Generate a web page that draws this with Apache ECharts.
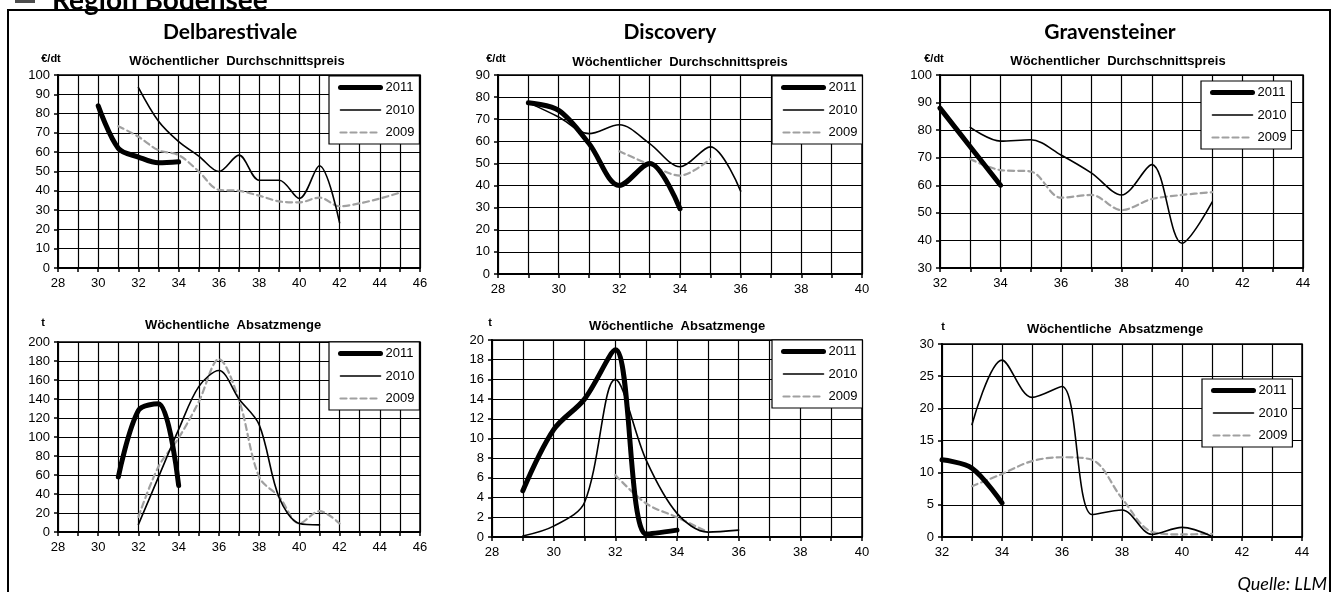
<!DOCTYPE html>
<html>
<head>
<meta charset="utf-8">
<script src="https://cdn.jsdelivr.net/npm/echarts@6/dist/echarts.min.js"></script>
<style>
html,body{margin:0;padding:0;background:#fff;}
#c{width:1335px;height:592px;}
</style>
</head>
<body>
<div id="c"></div>
<script>
// ---------- DATA ----------
const sortTitles = ['Delbarestivale', 'Discovery', 'Gravensteiner'];
const preisTitle = 'Wöchentlicher  Durchschnittspreis';
const mengeTitle = 'Wöchentliche  Absatzmenge';
const years = ['2011', '2010', '2009'];

// Delbarestivale – Preis (€/dt)
const delPreisWochen2011 = [30, 31, 32, 33, 34];
const delPreis2011 = [84, 62, 57.5, 54.5, 55];
const delPreisWochen2010 = [32, 33, 34, 35, 36, 37, 38, 39, 40, 41, 42];
const delPreis2010 = [93.5, 76, 65.5, 58, 50, 58.5, 45.5, 45.5, 36, 53, 23.5];
const delPreisWochen2009 = [31, 32, 33, 34, 35, 36, 37, 38, 39, 40, 41, 42, 43, 44, 45];
const delPreis2009 = [73.5, 68, 61, 58.5, 50, 40.5, 40, 37.5, 34.5, 34, 36.5, 32, 33.5, 36, 39];

// Discovery – Preis (€/dt)
const disPreisWochen2011 = [29, 30, 31, 32, 33, 34];
const disPreis2011 = [77.5, 74, 59, 40, 50, 29.5];
const disPreisWochen2010 = [29, 30, 31, 32, 33, 34, 35, 36];
const disPreis2010 = [77.5, 71, 63.5, 67.5, 59, 48.5, 57.5, 37.5];
const disPreisWochen2009 = [32, 33, 34, 35];
const disPreis2009 = [55.5, 49.5, 44.5, 52];

// Gravensteiner – Preis (€/dt)
const graPreisWochen2011 = [32, 33, 34];
const graPreis2011 = [88, 74, 60];
const graPreisWochen2010 = [33, 34, 35, 36, 37, 38, 39, 40, 41];
const graPreis2010 = [81, 76, 76.5, 71, 64.5, 56.5, 67.5, 39, 54];
const graPreisWochen2009 = [33, 34, 35, 36, 37, 38, 39, 40, 41];
const graPreis2009 = [69.5, 65.5, 65, 55.5, 56.5, 51, 55, 56.5, 57.5];

// Delbarestivale – Absatzmenge (t)
const delMengeWochen2011 = [31, 32, 33, 34];
const delMenge2011 = [58, 128, 135, 49];
const delMengeWochen2010 = [32, 33, 34, 35, 36, 37, 38, 39, 40, 41];
const delMenge2010 = [8, 58, 108, 153, 170, 140, 113, 36, 9, 7.5];
const delMengeWochen2009 = [32, 33, 34, 35, 36, 37, 38, 39, 40, 41, 42];
const delMenge2009 = [16, 69, 99, 137, 182, 139, 58, 37, 9, 22, 9];

// Discovery – Absatzmenge (t)
const disMengeWochen2011 = [29, 30, 31, 32, 33, 34];
const disMenge2011 = [4.7, 10.9, 14, 19, 0.3, 0.7];
const disMengeWochen2010 = [29, 30, 31, 32, 33, 34, 35, 36];
const disMenge2010 = [0.1, 1.1, 3.5, 16, 7.8, 2.4, 0.5, 0.7];
const disMengeWochen2009 = [32, 33, 34, 35];
const disMenge2009 = [6.3, 3.4, 2.0, 0.5];

// Gravensteiner – Absatzmenge (t)
const graMengeWochen2011 = [32, 33, 34];
const graMenge2011 = [12, 10.7, 5.3];
const graMengeWochen2010 = [33, 34, 35, 36, 37, 38, 39, 40, 41];
const graMenge2010 = [17.5, 27.5, 21.7, 23.4, 3.5, 4.2, 0.4, 1.5, 0.1];
const graMengeWochen2009 = [33, 34, 35, 36, 37, 38, 39, 40, 41];
const graMenge2009 = [7.9, 9.8, 11.8, 12.4, 12.0, 6, 0.8, 0.4, 0.5];

// axis ranges
const xRanges = [[28, 46], [28, 40], [32, 44], [28, 46], [28, 40], [32, 44]];
const yRanges = [[0, 100, 10], [0, 90, 10], [30, 100, 10], [0, 200, 20], [0, 20, 2], [0, 30, 5]];

// ---------- LAYOUT ----------
const grids = [
  {left: 58, top: 75, width: 362, height: 193},
  {left: 498, top: 75, width: 364, height: 199},
  {left: 940, top: 75, width: 363, height: 193},
  {left: 58, top: 342, width: 362, height: 190},
  {left: 492, top: 340, width: 370, height: 197},
  {left: 942, top: 344, width: 360, height: 193}
];
const legendPos = [
  {left: 329, top: 76}, {left: 772, top: 76}, {left: 1201, top: 81},
  {left: 329, top: 342}, {left: 772, top: 340}, {left: 1202, top: 379}
];

const FONT = "'Liberation Sans', Arial, sans-serif";
const TFONT = "Lato, 'Open Sans', sans-serif";

const styles = {
  '2011': {color: '#000', width: 5, type: 'solid'},
  '2010': {color: '#000', width: 1.6, type: 'solid'},
  '2009': {color: '#a0a0a0', width: 2.2, type: [6, 4]}
};

function pairs(w, v) { return w.map((x, i) => [x, v[i]]); }

const panelData = [
  [[delPreisWochen2011, delPreis2011], [delPreisWochen2010, delPreis2010], [delPreisWochen2009, delPreis2009]],
  [[disPreisWochen2011, disPreis2011], [disPreisWochen2010, disPreis2010], [disPreisWochen2009, disPreis2009]],
  [[graPreisWochen2011, graPreis2011], [graPreisWochen2010, graPreis2010], [graPreisWochen2009, graPreis2009]],
  [[delMengeWochen2011, delMenge2011], [delMengeWochen2010, delMenge2010], [delMengeWochen2009, delMenge2009]],
  [[disMengeWochen2011, disMenge2011], [disMengeWochen2010, disMenge2010], [disMengeWochen2009, disMenge2009]],
  [[graMengeWochen2011, graMenge2011], [graMengeWochen2010, graMenge2010], [graMengeWochen2009, graMenge2009]]
];

const series = [];
panelData.forEach((pd, gi) => {
  [2, 1, 0].forEach(k => {
    const name = years[k];
    const s = styles[name];
    series.push({
      type: 'line', name: name, xAxisIndex: gi, yAxisIndex: gi,
      data: pairs(pd[k][0], pd[k][1]),
      smooth: 0.33, symbol: 'none', silent: true, animation: false,
      lineStyle: {color: s.color, width: s.width, type: s.type, cap: 'round', join: 'round'},
      itemStyle: {color: s.color},
      z: 3 + (2 - k)
    });
  });
});

const gridLine = {show: true, lineStyle: {color: '#000', width: 1.2}};
const xAxes = xRanges.map((r, i) => ({
  type: 'value', gridIndex: i, min: r[0], max: r[1], interval: 2,
  axisLine: {show: true, onZero: false, lineStyle: {color: '#000', width: 2}},
  axisTick: {show: true, inside: false, length: 4, lineStyle: {color: '#000', width: 1.5}},
  minorTick: {show: true, splitNumber: 2, length: 4, lineStyle: {color: '#000', width: 1.5}},
  splitLine: gridLine,
  minorSplitLine: gridLine,
  axisLabel: {color: '#000', fontFamily: FONT, fontSize: 13, margin: 9}
}));
const yAxes = yRanges.map((r, i) => ({
  type: 'value', gridIndex: i, min: r[0], max: r[1], interval: r[2],
  axisLine: {show: true, onZero: false, lineStyle: {color: '#000', width: 2}},
  axisTick: {show: true, inside: false, length: 4, lineStyle: {color: '#000', width: 1.5}},
  splitLine: gridLine,
  axisLabel: {color: '#000', fontFamily: FONT, fontSize: 13, margin: 8}
}));

const legends = legendPos.map(p => ({
  left: p.left, top: p.top, orient: 'vertical',
  data: years.map(y => ({
    name: y,
    lineStyle: {width: styles[y].width, color: styles[y].color, type: styles[y].type, cap: 'round'}
  })),
  itemWidth: 40, itemHeight: 14, itemGap: 9.5,
  padding: [5, 5, 5, 9],
  backgroundColor: '#fff', borderColor: '#000', borderWidth: 1.2,
  itemStyle: {opacity: 0},
  textStyle: {color: '#000', fontFamily: FONT, fontSize: 13, padding: [0, 0, 0, 0]},
  selectedMode: false, z: 10
}));

function txt(x, y, text, font, align) {
  return {type: 'text', x: x, y: y, z: 20,
    style: {text: text, font: font, fill: '#000', align: align || 'center', verticalAlign: 'middle'}};
}

const graphic = [
  {type: 'rect', shape: {x: 8, y: 10, width: 1322, height: 600}, style: {fill: 'none', stroke: '#000', lineWidth: 2}, z: 1},
  {type: 'rect', shape: {x: 15, y: -12, width: 20, height: 15}, style: {fill: '#4d4d4d'}, z: 1},
  {type: 'text', x: 52, y: 15, z: 20, style: {text: 'Region Bodensee', font: "bold 28px " + TFONT, fill: '#000', align: 'left', verticalAlign: 'bottom'}},
  txt(230, 32, sortTitles[0], "bold 21px " + TFONT),
  txt(670, 32, sortTitles[1], "bold 21px " + TFONT),
  txt(1110, 32, sortTitles[2], "bold 21px " + TFONT),
  txt(237, 61, preisTitle, "bold 13px " + FONT),
  txt(680, 62, preisTitle, "bold 13px " + FONT),
  txt(1118, 61, preisTitle, "bold 13px " + FONT),
  txt(233, 325, mengeTitle, "bold 13px " + FONT),
  txt(677, 326, mengeTitle, "bold 13px " + FONT),
  txt(1115, 329, mengeTitle, "bold 13px " + FONT),
  txt(51, 59, '€/dt', "bold 11px " + FONT),
  txt(496, 59, '€/dt', "bold 11px " + FONT),
  txt(934, 59, '€/dt', "bold 11px " + FONT),
  txt(43, 323, 't', "bold 11px " + FONT),
  txt(490, 323, 't', "bold 11px " + FONT),
  txt(943, 327, 't', "bold 11px " + FONT),
  txt(1327, 584, 'Quelle: LLM', "italic 18px " + TFONT, 'right')
];

const chart = echarts.init(document.getElementById('c'), null, {renderer: 'canvas'});
chart.setOption({
  animation: false,
  backgroundColor: '#fff',
  grid: grids.map(g => Object.assign({show: true, borderColor: '#000', borderWidth: 1.5, backgroundColor: 'transparent'}, g)),
  xAxis: xAxes,
  yAxis: yAxes,
  legend: legends,
  series: series,
  graphic: graphic
});
</script>
</body>
</html>
